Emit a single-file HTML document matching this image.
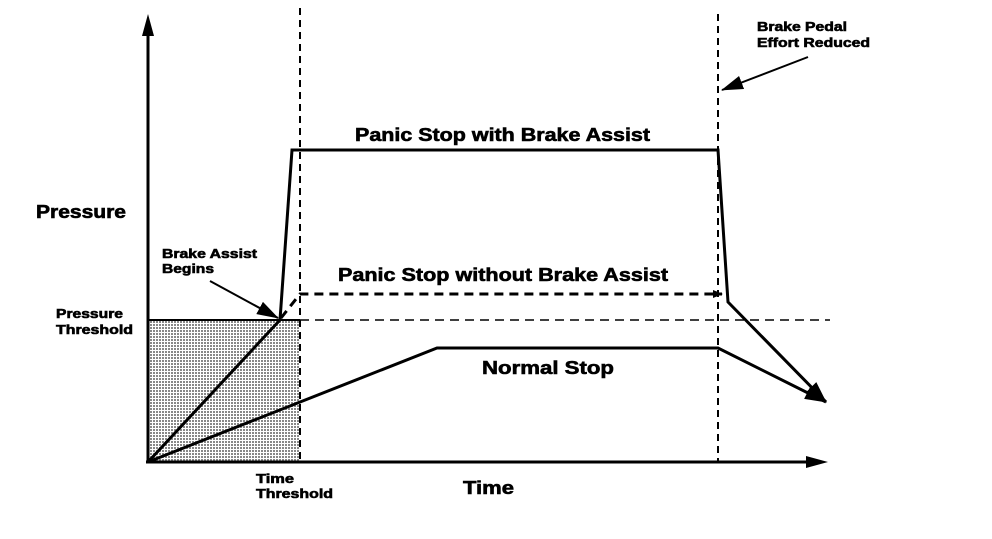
<!DOCTYPE html>
<html><head><style>
body{margin:0;background:#fff}
svg text{font-family:"Liberation Sans",Arial,sans-serif;font-weight:bold;fill:#000;stroke:#000;stroke-width:0.6}
</style></head><body>
<svg width="992" height="534" viewBox="0 0 992 534" xmlns="http://www.w3.org/2000/svg">
<defs>
<pattern id="dots" width="3" height="3" patternUnits="userSpaceOnUse"><rect width="3" height="3" fill="#fff"/><rect width="2" height="2" fill="#888"/></pattern>
<marker id="ah" markerWidth="10" markerHeight="8" refX="9" refY="4" orient="auto" markerUnits="userSpaceOnUse"><path d="M0,0 L10,4 L0,8 Z" fill="#000"/></marker>
<marker id="ahb" markerWidth="22" markerHeight="14" refX="21" refY="7" orient="auto" markerUnits="userSpaceOnUse"><path d="M0,0 L22,7 L0,14 Z" fill="#000"/></marker>
</defs>
<rect x="148" y="320" width="152" height="142" fill="url(#dots)"/>
<line x1="148" y1="463" x2="148" y2="30" stroke="#000" stroke-width="3"/>
<path d="M148,14 L142,36 L154,36 Z"/>
<line x1="146" y1="462" x2="810" y2="462" stroke="#000" stroke-width="3"/>
<path d="M828,462 L806,456 L806,468 Z"/>
<line x1="300" y1="8" x2="300" y2="462" stroke="#000" stroke-width="2" stroke-dasharray="7,5"/>
<line x1="718" y1="14" x2="718" y2="462" stroke="#000" stroke-width="2" stroke-dasharray="7,5"/>
<line x1="300" y1="320" x2="830" y2="320" stroke="#000" stroke-width="1.5" stroke-dasharray="9,6"/>
<line x1="148" y1="320" x2="300" y2="320" stroke="#000" stroke-width="2"/>
<polyline points="148,462 280,320 292,150 718,150 728,302 826,402" fill="none" stroke="#000" stroke-width="3" marker-end="url(#ahb)"/>
<polyline points="281,318 300,294 722,294" fill="none" stroke="#000" stroke-width="3" stroke-dasharray="9,6" marker-end="url(#ah)"/>
<polyline points="148,462 437,348 718,348 826,402" fill="none" stroke="#000" stroke-width="3" marker-end="url(#ahb)"/>
<line x1="210" y1="281" x2="278" y2="318" stroke="#000" stroke-width="2" marker-end="url(#ahb)"/>
<line x1="808" y1="57" x2="722" y2="90" stroke="#000" stroke-width="2" marker-end="url(#ahb)"/>
<text x="36" y="218" font-size="18" textLength="90" lengthAdjust="spacingAndGlyphs">Pressure</text>
<text x="56" y="318" font-size="13" textLength="67" lengthAdjust="spacingAndGlyphs">Pressure</text>
<text x="56" y="334" font-size="13" textLength="77" lengthAdjust="spacingAndGlyphs">Threshold</text>
<text x="162" y="258" font-size="13" textLength="95" lengthAdjust="spacingAndGlyphs">Brake Assist</text>
<text x="162" y="273" font-size="13" textLength="52" lengthAdjust="spacingAndGlyphs">Begins</text>
<text x="355" y="141" font-size="18" textLength="295" lengthAdjust="spacingAndGlyphs">Panic Stop with Brake Assist</text>
<text x="338" y="281" font-size="18" textLength="330" lengthAdjust="spacingAndGlyphs">Panic Stop without Brake Assist</text>
<text x="482" y="374" font-size="18" textLength="132" lengthAdjust="spacingAndGlyphs">Normal Stop</text>
<text x="256" y="483" font-size="13" textLength="38" lengthAdjust="spacingAndGlyphs">Time</text>
<text x="256" y="498" font-size="13" textLength="77" lengthAdjust="spacingAndGlyphs">Threshold</text>
<text x="463" y="494" font-size="18" textLength="51" lengthAdjust="spacingAndGlyphs">Time</text>
<text x="757" y="31" font-size="13" textLength="90" lengthAdjust="spacingAndGlyphs">Brake Pedal</text>
<text x="757" y="47" font-size="13" textLength="113" lengthAdjust="spacingAndGlyphs">Effort Reduced</text>
</svg>
</body></html>
